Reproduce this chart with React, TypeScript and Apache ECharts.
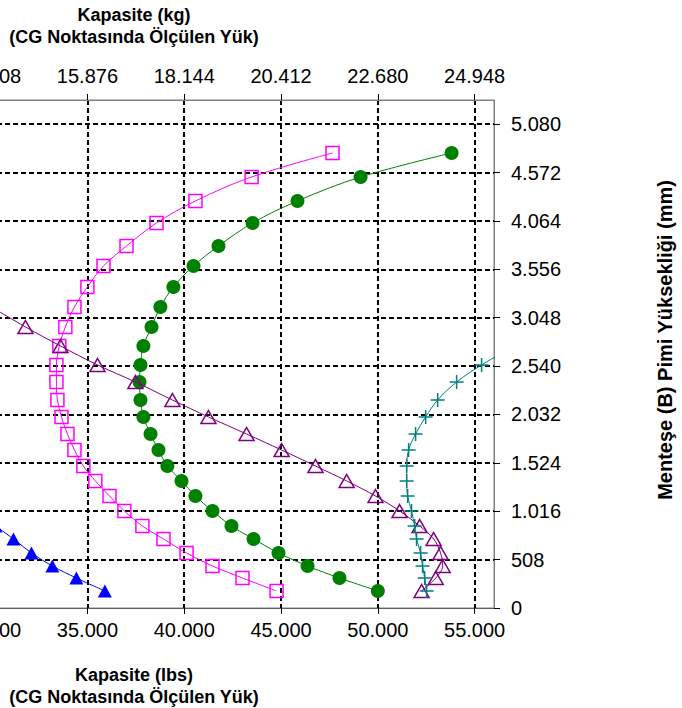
import React, { useEffect, useRef } from "react";
import * as echarts from "echarts";

// Hinge pin height (mm), shared by all curves, index 0 = lowest point
const heightsMm = [179, 315, 441, 578, 725, 861, 1019, 1176, 1334, 1491, 1659, 1827, 2006, 2184, 2373, 2552, 2751, 2951, 3161, 3371, 3591, 3801, 4043, 4274, 4526, 4778];

// Capacity (lbs) for each curve, aligned with heightsMm
const blueLbs = [35900, 34430, 33190, 32110, 31180, 30250];
const magentaLbs = [44770, 43010, 41460, 40120, 38930, 37840, 36910, 36140, 35410, 34790, 34330, 33970, 33660, 33450, 33400, 33400, 33550, 33860, 34330, 35000, 35830, 37020, 38570, 40580, 43480, 47660];
const greenLbs = [50000, 48020, 46370, 44870, 43580, 42440, 41460, 40580, 39860, 39130, 38670, 38260, 37890, 37740, 37690, 37740, 37890, 38310, 38770, 39440, 40480, 41770, 43530, 45850, 49110, 53810];
const purpleLbs = [52260, 52990, 53350, 53240, 52880, 52160, 51120, 49880, 48390, 46780, 45030, 43220, 41250, 39390, 37480, 35520, 33610, 31800, 30040];
const tealLbs = [52520, 52420, 52310, 52210, 52000, 51900, 51740, 51540, 51490, 51490, 51590, 51950, 52470, 53090, 54070, 55360, 57070];

const xMin = 20000;
const xMax = 56000;
const xStep = 5000;
const yMin = 0;
const yMax = 5334;
const yStep = 508;
const LBS_TO_KG = 0.45359237;

const topTitle = ["Kapasite (kg)", "(CG Noktasında Ölçülen Yük)"];
const bottomTitle = ["Kapasite (lbs)", "(CG Noktasında Ölçülen Yük)"];
const rightTitle = "Menteşe (B) Pimi Yüksekliği (mm)";

const OFFSET = 300;
const W = 682;
const H = 708;
const FONT = '"Liberation Sans", Arial, Helvetica, sans-serif';

const fmt = (v: number) =>
  Math.round(v)
    .toString()
    .replace(/\B(?=(\d{3})+(?!\d))/g, ".");

const PLUS = "path://M6.25,0 h1.5 v6.25 h6.25 v1.5 h-6.25 v6.25 h-1.5 v-6.25 h-6.25 v-1.5 h6.25 z";

function makeSeries(
  name: string,
  lbs: number[],
  color: string,
  symbol: string,
  size: number | number[],
  filled: boolean,
  z: number
) {
  return {
    name,
    type: "line",
    data: lbs.map((v, i) => [v, heightsMm[i]]),
    smooth: 0.35,
    symbol,
    symbolSize: size,
    showAllSymbol: true,
    clip: true,
    z,
    silent: true,
    lineStyle: { color, width: 1 },
    itemStyle: filled
      ? { color, borderWidth: 0 }
      : { color: "rgba(0,0,0,0)", borderColor: color, borderWidth: 1.5 },
    emphasis: { disabled: true },
  };
}

function titleText(text: string, x: number, y: number, size: number, rotation = 0) {
  return {
    type: "text",
    x: x + OFFSET,
    y,
    rotation,
    silent: true,
    style: {
      text,
      fill: "#000",
      fontFamily: FONT,
      fontSize: size,
      fontWeight: "bold",
      align: "center",
      verticalAlign: "middle",
      textAlign: "center",
      textVerticalAlign: "middle",
    },
  };
}

export default function App() {
  const ref = useRef<HTMLDivElement>(null);
  useEffect(() => {
    if (!ref.current) return;
    const chart = echarts.init(ref.current, null, { renderer: "svg" });
    const gridLine = { color: "#000", type: [5, 3], width: 2 };
    const axisLabelBase = { fontSize: 20, color: "#000", fontFamily: FONT };
    chart.setOption({
      animation: false,
      backgroundColor: "#fff",
      textStyle: { fontFamily: FONT },
      grid: {
        left: 97,
        right: W + OFFSET - 794,
        top: 100,
        bottom: 100,
        show: true,
        borderColor: "#808080",
        borderWidth: 1,
        backgroundColor: "rgba(0,0,0,0)",
      },
      xAxis: [
        {
          type: "value",
          position: "bottom",
          min: xMin,
          max: xMax,
          interval: xStep,
          axisLine: { show: true, onZero: false, lineStyle: { color: "#606060", width: 1 } },
          axisTick: { show: true, length: 6, lineStyle: { color: "#000", width: 1 } },
          axisLabel: { ...axisLabelBase, margin: 12, formatter: fmt, showMaxLabel: false },
          splitLine: { show: true, showMinLine: false, showMaxLine: false, lineStyle: gridLine },
        },
        {
          type: "value",
          position: "top",
          min: xMin,
          max: xMax,
          interval: xStep,
          axisLine: { show: true, onZero: false, lineStyle: { color: "#808080", width: 1 } },
          axisTick: { show: true, length: 6, lineStyle: { color: "#000", width: 1 } },
          axisLabel: {
            ...axisLabelBase,
            margin: 14,
            formatter: (v: number) => fmt(v * LBS_TO_KG),
            showMaxLabel: false,
          },
          splitLine: { show: false },
        },
      ],
      yAxis: [
        {
          type: "value",
          position: "right",
          min: yMin,
          max: yMax,
          interval: yStep,
          axisLine: { show: true, onZero: false, lineStyle: { color: "#808080", width: 1 } },
          axisTick: { show: true, length: 6, lineStyle: { color: "#000", width: 1 } },
          axisLabel: { ...axisLabelBase, margin: 17, formatter: fmt, showMaxLabel: false },
          splitLine: { show: true, showMinLine: false, showMaxLine: false, lineStyle: gridLine },
        },
      ],
      series: [
        makeSeries("Mavi", blueLbs, "#0000FF", "triangle", [14, 13], true, 3),
        makeSeries("Yeşil", greenLbs, "#008000", "circle", 14, true, 2),
        makeSeries("Pembe", magentaLbs, "#FF00FF", "rect", 13, false, 4),
        makeSeries("Mor", purpleLbs, "#800080", "triangle", [15, 13], false, 5),
        makeSeries("Turkuaz", tealLbs, "#008080", PLUS, 14, true, 6),
      ],
      graphic: [
        titleText(topTitle[0], 134, 15, 18),
        titleText(topTitle[1], 134, 37, 18),
        titleText(bottomTitle[0], 134, 675, 18),
        titleText(bottomTitle[1], 134, 697, 18),
        titleText(rightTitle, 665, 340, 20, Math.PI / 2),
      ],
    });
    return () => chart.dispose();
  }, []);

  return (
    <div
      style={{
        position: "fixed",
        left: 0,
        top: 0,
        width: W,
        height: H,
        overflow: "hidden",
        background: "#fff",
      }}
    >
      <div
        ref={ref}
        style={{ position: "absolute", left: -OFFSET, top: 0, width: W + OFFSET, height: H }}
      />
    </div>
  );
}
